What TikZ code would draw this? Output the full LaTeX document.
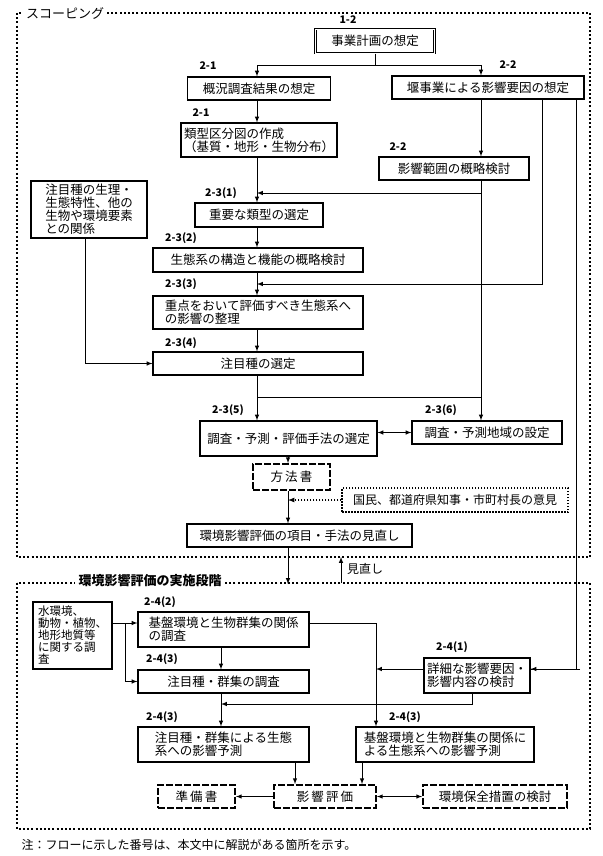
\documentclass[tikz,border=0pt]{standalone}
\usepackage{fontspec}
\setmainfont{Noto Sans CJK JP}
\usetikzlibrary{calc}
\tikzset{
  box/.style={draw, line width=1.1pt, inner sep=2pt, font=\fontsize{12.5}{13}\selectfont},
  twoline/.style={box, align=left},
  docbox/.style={draw, line width=1.8pt, dash pattern=on 7pt off 2pt, inner sep=2pt, font=\fontsize{12.5}{13}\selectfont},
  num/.style={font=\fontsize{10.5}{11}\selectfont\bfseries},
  frame/.style={line width=1.6pt, dash pattern=on 2pt off 2.2pt},
  arr/.style={line width=1pt, -latex},
  ln/.style={line width=1pt},
}
\begin{document}
\begin{tikzpicture}[x=1pt, y=-1pt]
  \useasboundingbox (0,0) rectangle (602,856);

  % scoping frame
  \draw[frame] (17,13) rectangle (590,557);
  \node[fill=white, font=\fontsize{13}{13}\selectfont] (t1) at (65,13) {スコーピング};

  \node[num] (n12) at (348,20) {1-2};
  \node[box, double, minimum width=119, minimum height=24] (jigyo) at (375,41) {事業計画の想定};

  \node[num] (n21a) at (208,66) {2-1};
  \node[num] (n22a) at (508,65) {2-2};
  \node[box, minimum width=143, minimum height=23] (gaikyo) at (259,88.5) {概況調査結果の想定};
  \node[box, minimum width=192, minimum height=23] (seki) at (488,87.5) {堰事業による影響要因の想定};

  \node[num] (n21b) at (201,113) {2-1};
  \node[twoline, minimum width=156, minimum height=34] (ruikei) at (259,140) {類型区分図の作成\\（基質・地形・生物分布）};
  \node[num] (n22b) at (398,147) {2-2};
  \node[box, minimum width=150, minimum height=23] (hani) at (454,168.5) {影響範囲の概略検討};

  \node[twoline, minimum width=116, minimum height=57] (seiri) at (89,209.5) {注目種の生理・\\生態特性、他の\\生物や環境要素\\との関係};
  \node[num] (n231) at (221,193) {2-3(1)};
  \node[box, minimum width=128, minimum height=24] (juyo) at (259,215) {重要な類型の選定};
  \node[num] (n232) at (181,238) {2-3(2)};
  \node[box, minimum width=210, minimum height=24] (kozo) at (258,260) {生態系の構造と機能の概略検討};
  \node[num] (n233) at (181,284) {2-3(3)};
  \node[twoline, minimum width=210, minimum height=33] (juten) at (258,312.5) {重点をおいて評価すべき生態系へ\\の影響の整理};
  \node[num] (n234) at (181,343) {2-3(4)};
  \node[box, minimum width=210, minimum height=23] (chumoku) at (258,363.5) {注目種の選定};

  \node[num] (n235) at (228,410) {2-3(5)};
  \node[num] (n236) at (441,410) {2-3(6)};
  \node[box, minimum width=177, minimum height=35] (shuho) at (288.5,438.5) {調査・予測・評価手法の選定};
  \node[box, minimum width=150, minimum height=23] (chiiki) at (487,432.5) {調査・予測地域の設定};
  \node[docbox, minimum width=77, minimum height=26] (hoho) at (291.5,477) {方\,法\,書};
  \node[draw, line width=1.2pt, dash pattern=on 1.5pt off 1.5pt, minimum width=226, minimum height=24, inner sep=2pt, font=\fontsize{12}{13}\selectfont] (kokumin) at (455,500) {国民、都道府県知事・市町村長の意見};
  \node[box, minimum width=225, minimum height=23] (minao) at (299.5,535.5) {環境影響評価の項目・手法の見直し};

  % implementation frame
  \draw[frame] (17,583) rectangle (590,829);
  \node[fill=white, font=\fontsize{13}{13}\selectfont\bfseries] (t2) at (150,581) {環境影響評価の実施段階};
  \node[font=\fontsize{12}{13}\selectfont] (mlab) at (365,569) {見直し};

  \node[twoline, minimum width=79, minimum height=67, font=\fontsize{11.5}{12}\selectfont] (mizu) at (72.5,635.5) {水環境、\\動物・植物、\\地形地質等\\に関する調\\査};
  \node[num] (n242) at (160,602) {2-4(2)};
  \node[twoline, minimum width=171, minimum height=35] (kiban) at (223.5,629.5) {基盤環境と生物群集の関係\\の調査};
  \node[num] (n243a) at (162,659) {2-4(3)};
  \node[box, minimum width=171, minimum height=23] (chosa) at (223.5,681.5) {注目種・群集の調査};
  \node[num] (n241) at (452,647) {2-4(1)};
  \node[twoline, minimum width=106, minimum height=35] (shosai) at (477,675.5) {詳細な影響要因・\\影響内容の検討};
  \node[num] (n243b) at (162,717) {2-4(3)};
  \node[num] (n243c) at (405,717) {2-4(3)};
  \node[twoline, minimum width=171, minimum height=35] (yosoku1) at (223.5,744.5) {注目種・群集による生態\\系への影響予測};
  \node[twoline, minimum width=178, minimum height=35] (yosoku2) at (445,744.5) {基盤環境と生物群集の関係に\\よる生態系への影響予測};
  \node[docbox, minimum width=77, minimum height=23] (junbi) at (196.5,796.5) {準\,備\,書};
  \node[docbox, minimum width=102, minimum height=23] (hyoka) at (325,796.5) {影\,響\,評\,価};
  \node[docbox, minimum width=144, minimum height=23] (hozen) at (495,796.5) {環境保全措置の検討};

  \node[anchor=west, font=\fontsize{12}{13}\selectfont] (note) at (18,845) {注：フローに示した番号は、本文中に解説がある箇所を示す。};

  % connectors, scoping
  \coordinate (sp1) at (375,66);
  \draw[ln] (jigyo.south) -- (sp1);
  \draw[arr] (sp1) -| (gaikyo.north -| 257,0);
  \draw[arr] (sp1) -| (seki.north -| 481,0);
  \draw[arr] (gaikyo.south -| 257,0) -- (ruikei.north -| 257,0);
  \draw[arr] (seki.south -| 481,0) -- (hani.north -| 481,0);
  \draw[arr] (ruikei.south -| 257,0) -- (juyo.north -| 257,0);
  \draw[arr] (hani.south -| 481,0) -- (chiiki.north -| 481,0);
  \draw[arr] (hani.south -| 481,0) |- (257,193);
  \draw[arr] (juyo.south -| 257,0) -- (kozo.north -| 257,0);
  \draw[arr] (kozo.south -| 257,0) -- (juten.north -| 257,0);
  \draw[arr] (seki.south -| 542,0) |- (257,284);
  \draw[arr] (juten.south -| 257,0) -- (chumoku.north -| 257,0);
  \draw[arr] (seiri.south -| 85,0) |- (chumoku.west);
  \draw[ln] (chumoku.south -| 257,0) -- (257,397) -- (481,397);
  \draw[arr] (257,397) -- (shuho.north -| 257,0);
  \draw[arr, latex-latex] (shuho.east |- chiiki) -- (chiiki.west);
  \draw[arr] (shuho.south -| 288,0) -- (hoho.north -| 288,0);
  \draw[arr] (hoho.south -| 288,0) -- (minao.north -| 288,0);
  \draw[arr, line width=1.2pt, dash pattern=on 1.5pt off 1.5pt] (kokumin.west) -- (288,500);
  \draw[arr] (minao.south -| 288,0) -- (288,584);
  \draw[arr] (341,583) -- (341,557);

  % connectors, implementation
  \draw[ln] (seki.south -| 576,0) |- (shosai.east |- 0,669);
  \draw[arr] (580,669) -- (shosai.east |- 0,669);
  \draw[ln] (mizu.east |- 0,623) -- (125,623);
  \draw[arr] (125,623) -- (kiban.west |- 0,623);
  \draw[arr] (125,623) |- (chosa.west);
  \draw[arr] (kiban.south -| 221,0) -- (chosa.north -| 221,0);
  \draw[arr] (kiban.east |- 0,623) -| (yosoku2.north -| 376,0);
  \draw[arr] (shosai.west |- 0,669) -- (376,669);
  \draw[arr] (shosai.south -| 472,0) |- (221,704);
  \draw[arr] (chosa.south -| 221,0) -- (yosoku1.north -| 221,0);
  \draw[arr] (yosoku1.south -| 295,0) -- (hyoka.north -| 295,0);
  \draw[arr] (yosoku2.south -| 362,0) -- (hyoka.north -| 362,0);
  \draw[arr] (hyoka.west) -- (junbi.east);
  \draw[arr, latex-latex] (hyoka.east) -- (hozen.west);
\end{tikzpicture}
\end{document}
